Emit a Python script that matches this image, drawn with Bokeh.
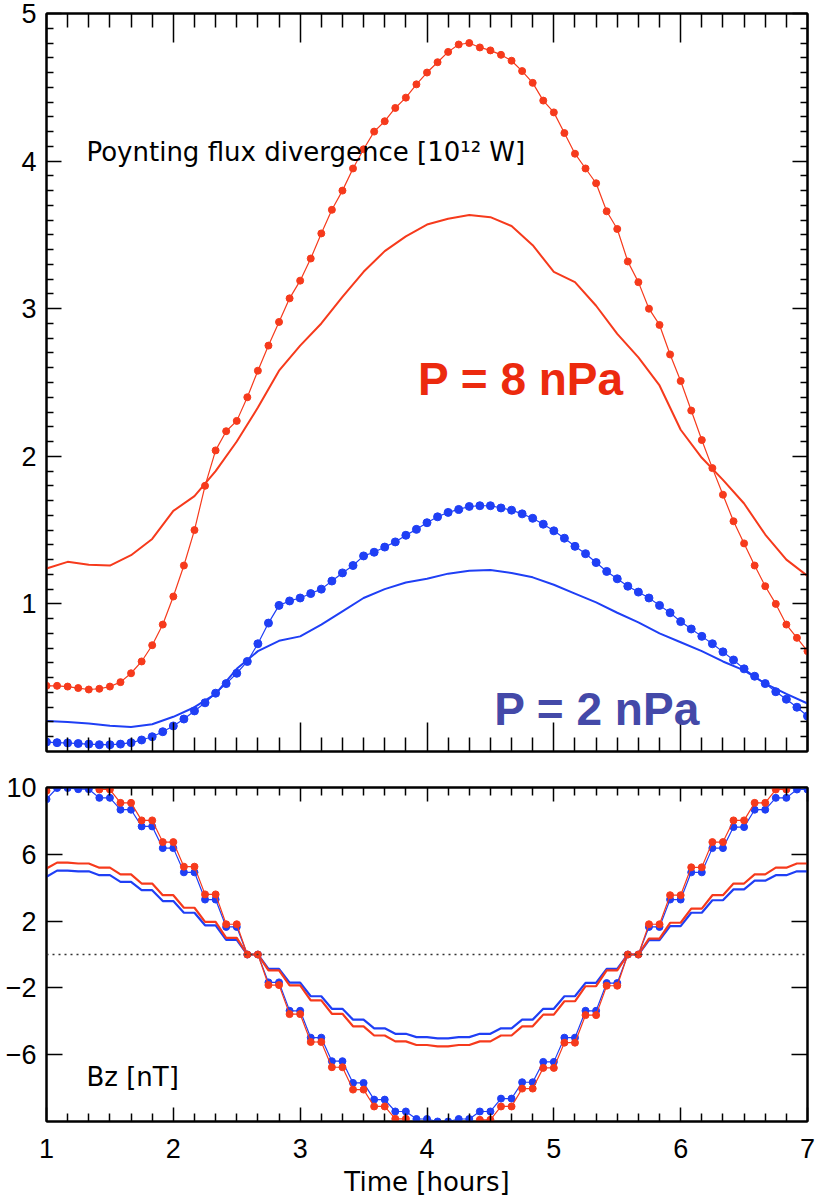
from bokeh.plotting import figure
from bokeh.layouts import column
from bokeh.models import (Range1d, LinearAxis, FixedTicker, Span, Label,
                          CustomLabelingPolicy)
from bokeh.embed import file_html
from bokeh.resources import INLINE

# ---------------------------------------------------------------------------
# Data
# ---------------------------------------------------------------------------
# sample times in hours: 5-minute cadence for the marked curves,
# 10-minute cadence for the smooth curves
t_5min = [1 + i / 12 for i in range(73)]
t_10min = [1 + i / 6 for i in range(37)]

# Poynting flux divergence [10^12 W]
pf_8npa_dots = [
    0.445, 0.445, 0.44, 0.43, 0.42, 0.425, 0.44, 0.47, 0.53, 0.61,
    0.72, 0.86, 1.05, 1.26, 1.50, 1.80, 2.04, 2.17, 2.24, 2.40,
    2.58, 2.75, 2.91, 3.07, 3.19, 3.34, 3.51, 3.67, 3.80, 3.95,
    4.08, 4.20, 4.27, 4.36, 4.43, 4.52, 4.60, 4.67, 4.74, 4.79,
    4.80, 4.77, 4.75, 4.72, 4.68, 4.61, 4.53, 4.41, 4.33, 4.19,
    4.05, 3.95, 3.85, 3.66, 3.54, 3.32, 3.18, 3.00, 2.89, 2.69,
    2.51, 2.31, 2.11, 1.92, 1.74, 1.56, 1.41, 1.26, 1.12, 1.00,
    0.86, 0.77, 0.68,
]
pf_8npa_line = [
    1.24, 1.285, 1.265, 1.26, 1.33, 1.44, 1.63, 1.73, 1.90, 2.10,
    2.33, 2.58, 2.75, 2.90, 3.08, 3.25, 3.39, 3.49, 3.57, 3.61,
    3.635, 3.62, 3.56, 3.43, 3.25, 3.18, 3.02, 2.83, 2.67, 2.48,
    2.18, 1.99, 1.84, 1.68, 1.47, 1.30, 1.19,
]
pf_2npa_dots = [
    0.064, 0.060, 0.058, 0.054, 0.050, 0.046, 0.046, 0.050, 0.060, 0.078,
    0.10, 0.134, 0.173, 0.22, 0.275, 0.33, 0.395, 0.46, 0.53, 0.61,
    0.73, 0.87, 0.99, 1.02, 1.04, 1.07, 1.10, 1.155, 1.21, 1.26,
    1.325, 1.35, 1.385, 1.42, 1.465, 1.505, 1.55, 1.59, 1.62, 1.64,
    1.66, 1.665, 1.665, 1.65, 1.635, 1.61, 1.58, 1.54, 1.495, 1.445,
    1.39, 1.34, 1.28, 1.22, 1.17, 1.12, 1.08, 1.04, 0.99, 0.94,
    0.88, 0.83, 0.78, 0.73, 0.675, 0.62, 0.56, 0.51, 0.46, 0.405,
    0.354, 0.30, 0.24,
]
pf_2npa_line = [
    0.207, 0.20, 0.19, 0.175, 0.166, 0.185, 0.235, 0.30, 0.39, 0.56,
    0.68, 0.75, 0.78, 0.86, 0.95, 1.04, 1.10, 1.145, 1.17, 1.205,
    1.225, 1.23, 1.21, 1.18, 1.13, 1.07, 1.01, 0.94, 0.875, 0.80,
    0.74, 0.68, 0.61, 0.55, 0.46, 0.39, 0.325,
]

# IMF Bz [nT]
bz_8npa_dots = [
    9.8, 10.5, 10.5, 10.4, 10.4, 9.88, 9.88, 9.08, 9.08, 8.03,
    8.03, 6.73, 6.73, 5.26, 5.26, 3.6, 3.6, 1.81, 1.81, 0.0,
    0.0, -1.83, -1.83, -3.57, -3.57, -5.24, -5.24, -6.75, -6.75, -8.09,
    -8.09, -9.10, -9.10, -9.84, -9.84, -10.3, -10.3, -10.5, -10.5, -10.3,
    -10.3, -9.9, -9.9, -9.1, -9.1, -8.03, -8.03, -6.79, -6.79, -5.28,
    -5.28, -3.63, -3.63, -1.87, -1.87, 0.0, 0.0, 1.81, 1.81, 3.55,
    3.55, 5.22, 5.22, 6.73, 6.73, 8.03, 8.03, 9.08, 9.08, 9.88,
    9.88, 10.4, 10.4,
]
bz_2npa_dots = [
    9.3, 9.97, 9.97, 9.9, 9.9, 9.38, 9.38, 8.67, 8.67, 7.67,
    7.67, 6.37, 6.37, 4.92, 4.92, 3.29, 3.29, 1.65, 1.65, 0.0,
    0.0, -1.67, -1.67, -3.37, -3.37, -4.98, -4.98, -6.39, -6.39, -7.69,
    -7.69, -8.69, -8.69, -9.4, -9.4, -9.85, -9.85, -10.0, -10.0, -9.85,
    -9.85, -9.4, -9.4, -8.63, -8.63, -7.65, -7.65, -6.43, -6.43, -4.98,
    -4.98, -3.37, -3.37, -1.71, -1.71, 0.0, 0.0, 1.65, 1.65, 3.29,
    3.29, 4.92, 4.92, 6.37, 6.37, 7.63, 7.63, 8.67, 8.67, 9.38,
    9.38, 9.88, 9.88,
]
bz_8npa_line = [
    5.15, 5.5, 5.5, 5.45, 5.45, 5.2, 5.2, 4.8, 4.8, 4.25,
    4.25, 3.55, 3.55, 2.8, 2.8, 1.95, 1.95, 1.0, 1.0, 0.0,
    0.0, -0.95, -0.95, -1.85, -1.85, -2.75, -2.75, -3.55, -3.55, -4.3,
    -4.3, -4.85, -4.85, -5.2, -5.2, -5.42, -5.42, -5.5, -5.5, -5.42,
    -5.42, -5.2, -5.2, -4.85, -4.85, -4.3, -4.3, -3.6, -3.6, -2.8,
    -2.8, -1.9, -1.9, -0.95, -0.95, 0.0, 0.0, 0.95, 0.95, 1.9,
    1.9, 2.75, 2.75, 3.55, 3.55, 4.25, 4.25, 4.8, 4.8, 5.2,
    5.2, 5.45, 5.45,
]
bz_2npa_line = [
    4.65, 5.02, 5.02, 4.98, 4.98, 4.75, 4.75, 4.35, 4.35, 3.85,
    3.85, 3.2, 3.2, 2.5, 2.5, 1.75, 1.75, 0.88, 0.88, 0.0,
    0.0, -0.86, -0.86, -1.68, -1.68, -2.5, -2.5, -3.25, -3.25, -3.9,
    -3.9, -4.42, -4.42, -4.75, -4.75, -4.95, -4.95, -5.02, -5.02, -4.95,
    -4.95, -4.75, -4.75, -4.42, -4.42, -3.9, -3.9, -3.25, -3.25, -2.5,
    -2.5, -1.7, -1.7, -0.86, -0.86, 0.0, 0.0, 0.86, 0.86, 1.7,
    1.7, 2.5, 2.5, 3.25, 3.25, 3.9, 3.9, 4.42, 4.42, 4.75,
    4.75, 4.98, 4.98,
]

hour_ticks = [1, 2, 3, 4, 5, 6, 7]
hour_minor = [1 + k / 6 for k in range(37) if k % 6]
pf_ticks = [1, 2, 3, 4, 5]
pf_minor = [k / 10 for k in range(51) if k % 10]
bz_ticks = [-6, -2, 2, 6, 10]

RED = "#f63a1c"
BLUE = "#1f3ff5"
RED_LABEL = "#ec2a0e"
BLUE_LABEL = "#4449a8"
TEXT_FONT = "DejaVu Sans"
TICK_FONT = "Liberation Sans"


def style_axis(ax, ticker, major_in, minor_in, labels, standoff=10):
    ax.ticker = ticker
    ax.axis_line_color = "black"
    ax.axis_line_width = 2
    ax.major_tick_line_color = "black"
    ax.minor_tick_line_color = "black"
    ax.major_tick_line_width = 1.5
    ax.minor_tick_line_width = 1.5
    ax.major_tick_in = major_in
    ax.major_tick_out = 0
    ax.minor_tick_in = minor_in
    ax.minor_tick_out = 0
    if labels:
        ax.major_label_text_font = TICK_FONT
        ax.major_label_text_font_size = "27px"
        ax.major_label_text_color = "black"
        ax.major_label_standoff = standoff
    else:
        # tick marks only on this side
        ax.major_label_policy = CustomLabelingPolicy(code="return []")
        ax.major_label_text_font_size = "0px"
        ax.major_label_standoff = 0


def base_figure(height, y_range, border_top, border_bottom):
    p = figure(
        width=816, height=height,
        x_range=Range1d(1, 7), y_range=y_range,
        output_backend="svg", toolbar_location=None,
        min_border_left=46, min_border_right=9,
        min_border_top=border_top, min_border_bottom=border_bottom,
        background_fill_color="white", border_fill_color="white",
    )
    p.grid.visible = False
    p.outline_line_color = "black"
    p.outline_line_width = 2
    return p


# ---------------------------------------------------------------------------
# Upper panel: Poynting flux divergence
# ---------------------------------------------------------------------------
top = base_figure(769, Range1d(0, 5), 13, 18)
top.add_layout(LinearAxis(), "above")
top.add_layout(LinearAxis(), "right")

x_tick_top = FixedTicker(ticks=hour_ticks, minor_ticks=hour_minor)
y_tick_top = FixedTicker(ticks=pf_ticks, minor_ticks=pf_minor)
for ax in top.below + top.above:
    style_axis(ax, x_tick_top, 29, 14, False)
for ax in top.left:
    style_axis(ax, y_tick_top, 15, 7, True)
for ax in top.right:
    style_axis(ax, y_tick_top, 15, 7, False)

top.line(t_10min, pf_8npa_line, line_color=RED, line_width=2)
top.line(t_10min, pf_2npa_line, line_color=BLUE, line_width=2)
top.line(t_5min, pf_8npa_dots, line_color=RED, line_width=1.2)
top.scatter(t_5min, pf_8npa_dots, marker="circle", size=7,
            fill_color=RED, line_color=RED)
top.line(t_5min, pf_2npa_dots, line_color=BLUE, line_width=1.2)
top.scatter(t_5min, pf_2npa_dots, marker="circle", size=8,
            fill_color=BLUE, line_color=BLUE)

top.add_layout(Label(x=1.315, y=4.06, text="Poynting flux divergence [10¹² W]",
                     text_font=TEXT_FONT, text_font_size="26px",
                     text_color="black", text_baseline="alphabetic"))
top.add_layout(Label(x=3.93, y=2.525, text="P = 8 nPa",
                     text_font="Liberation Sans", text_font_size="46px",
                     text_font_style="bold", text_color=RED_LABEL,
                     text_baseline="alphabetic"))
top.add_layout(Label(x=4.53, y=0.288, text="P = 2 nPa",
                     text_font="Liberation Sans", text_font_size="46px",
                     text_font_style="bold", text_color=BLUE_LABEL,
                     text_baseline="alphabetic"))

# ---------------------------------------------------------------------------
# Lower panel: Bz
# ---------------------------------------------------------------------------
bot = base_figure(431, Range1d(-10, 10), 18, 79)
bot.add_layout(LinearAxis(), "above")
bot.add_layout(LinearAxis(), "right")

x_tick_bot = FixedTicker(ticks=hour_ticks, minor_ticks=hour_minor)
y_tick_bot = FixedTicker(ticks=bz_ticks, minor_ticks=[])
for ax in bot.below:
    style_axis(ax, x_tick_bot, 14, 8, True, standoff=17)
    ax.axis_label = "Time [hours]"
    ax.axis_label_text_font = TEXT_FONT
    ax.axis_label_text_font_size = "26px"
    ax.axis_label_text_font_style = "normal"
    ax.axis_label_text_color = "black"
    ax.axis_label_standoff = 6
for ax in bot.above:
    style_axis(ax, x_tick_bot, 14, 8, False)
for ax in bot.left:
    style_axis(ax, y_tick_bot, 16, 0, True)
for ax in bot.right:
    style_axis(ax, y_tick_bot, 16, 0, False)

bot.add_layout(Span(location=0, dimension="width", line_color="#333333",
                    line_width=1.5, line_dash="2 4"))

bot.line(t_5min, bz_2npa_line, line_color=BLUE, line_width=2.2)
bot.line(t_5min, bz_8npa_line, line_color=RED, line_width=2.2)
bot.line(t_5min, bz_2npa_dots, line_color=BLUE, line_width=1.2)
bot.scatter(t_5min, bz_2npa_dots, marker="circle", size=7,
            fill_color=BLUE, line_color=BLUE)
bot.line(t_5min, bz_8npa_dots, line_color=RED, line_width=1.2)
bot.scatter(t_5min, bz_8npa_dots, marker="circle", size=7,
            fill_color=RED, line_color=RED)

bot.add_layout(Label(x=1.315, y=-7.35, text="Bz [nT]",
                     text_font=TEXT_FONT, text_font_size="26px",
                     text_color="black", text_baseline="alphabetic"))

layout = column(top, bot, spacing=0)
open("out.html", "w").write(file_html(layout, INLINE))
